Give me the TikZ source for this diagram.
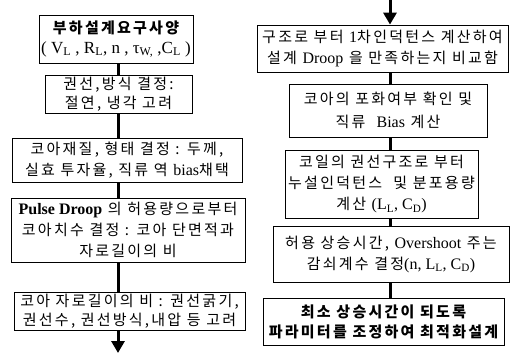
\documentclass[tikz,border=0pt]{standalone}
\usepackage{fontspec}
\setmainfont{Liberation Serif}
\newfontfamily\kr[LetterSpace=15]{Noto Sans CJK KR}
\usetikzlibrary{arrows.meta}
\newcommand\lt[1]{{\rmfamily\fontsize{16}{21}\selectfont #1}}
\newcommand\sbs[1]{\textsubscript{#1}}
\begin{document}
\begin{tikzpicture}[x=1pt,y=-1pt,
  box/.style={draw, line width=0.8pt, inner sep=0pt, align=center,
    font=\kr\fontsize{15}{21}\selectfont},
  conn/.style={line width=3pt},
  arr/.style={line width=3pt, -{Triangle[length=12pt,width=13pt]}}]
\useasboundingbox (0,0) rectangle (512,354);
% left column
\node[box, minimum width=154pt, minimum height=48pt] (L1) at (116,39)
  {\bfseries 부하설계요구사양\\[-1pt] \lt{\fontsize{17}{21}\selectfont ( V\sbs{L} , R\sbs{L}, n , τ\sbs{W,} ,C\sbs{L} )}};
\node[box, minimum width=147pt, minimum height=38pt] (L2) at (118.5,94)
  {권선,방식 결정:\\[-2pt] 절연, 냉각 고려};
\node[box, minimum width=230pt, minimum height=44pt] (L3) at (127,160)
  {코아재질, 형태 결정 : 두께,\\[0pt] 실효 투자율, 직류 역 \lt{bias}채택};
\node[box, minimum width=234pt, minimum height=64pt] (L4) at (128,230)
  {\lt{\bfseries Pulse Droop} 의 허용량으로부터\\[0pt] 코아치수 결정 : 코아 단면적과\\[0pt] 자로길이의 비};
\node[box, minimum width=231pt, minimum height=38pt] (L5) at (129.5,311)
  {코아 자로길이의 비 : 권선굵기,\\[-2pt] 권선수, 권선방식,내압 등 고려};
\coordinate (lx) at (118,0);
\coordinate (lend) at (118,353);
\draw[conn] (L1.south -| lx) -- (L2.north -| lx);
\draw[conn] (L2.south -| lx) -- (L3.north -| lx);
\draw[conn] (L3.south -| lx) -- (L4.north -| lx);
\draw[conn] (L4.south -| lx) -- (L5.north -| lx);
\draw[arr] (L5.south -| lx) -- (lend);
% right column
\node[box, minimum width=251pt, minimum height=47pt] (R1) at (382.5,48.5)
  {구조로 부터 \lt{1}차인덕턴스 계산하여\\[0pt] 설계 \lt{Droop} 을 만족하는지 비교함};
\node[box, minimum width=198pt, minimum height=53pt] (R2) at (388,110.5)
  {코아의 포화여부 확인 및\\[2pt] 직류 \ \lt{Bias} 계산};
\node[box, minimum width=193pt, minimum height=68pt] (R3) at (381.5,184)
  {코일의 권선구조로 부터\\[0pt] 누설인덕턴스 \ 및 분포용량\\[0pt] 계산 \lt{(L\sbs{L}, C\sbs{D})}};
\node[box, minimum width=236pt, minimum height=56pt] (R4) at (391,254)
  {허용 상승시간, \lt{Overshoot} 주는\\[0pt] 감쇠계수 결정\lt{(n, L\sbs{L}, C\sbs{D})}};
\node[box, minimum width=241pt, minimum height=47pt] (R5) at (383.5,321.5)
  {\bfseries 최소 상승시간이 되도록\\[-1pt] \bfseries 파라미터를 조정하여 최적화설계};
\coordinate (rx) at (390,0);
\coordinate (rtop) at (390,0);
\draw[arr] (rtop) -- (R1.north -| rx);
\draw[conn] (R1.south -| rx) -- (R2.north -| rx);
\draw[conn] (R2.south -| rx) -- (R3.north -| rx);
\draw[conn] (R3.south -| rx) -- (R4.north -| rx);
\draw[conn] (R4.south -| rx) -- (R5.north -| rx);
\end{tikzpicture}
\end{document}
